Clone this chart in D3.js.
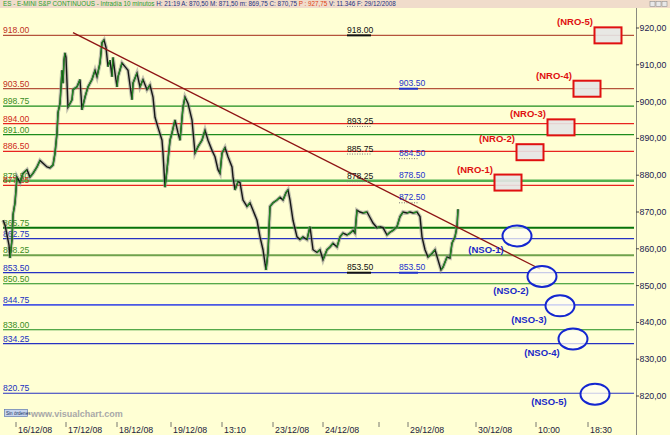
<!DOCTYPE html>
<html>
<head>
<meta charset="utf-8">
<script src="https://cdn.jsdelivr.net/npm/d3@7"></script>
<style>
  body { margin: 0; background: #ffffd4; }
  svg { display: block; }
  text { font-family: Arial, "Liberation Sans", sans-serif; }
</style>
</head>
<body>
<svg width="670" height="435"></svg>
<script>
// price path (10 min bars), slot = bar position on the time axis
const slot = [3,5,7,9,10,12,13,15,17,20,23,27,30,33,37,40,43,47,50,53,55,57,58,60,62,63,64,65,66,68,72,73,77,80,82,85,88,92,95,97,100,102,104,106,108,110,112,113,115,117,118,122,125,128,132,133,137,140,143,147,150,153,155,158,162,163,165,167,170,172,175,178,180,183,185,188,192,195,198,202,205,208,212,215,218,220,222,225,228,232,233,235,238,240,243,247,250,253,257,260,263,266,268,270,273,277,280,283,286,288,290,293,297,300,303,307,310,313,317,320,323,327,330,333,337,340,343,347,350,353,355,357,360,363,367,370,373,377,380,383,387,390,393,397,400,403,407,410,413,417,420,422,425,428,432,435,438,441,443,447,450,452,455,457,458];
const close = [867.75,866.5,863.75,861,857.5,862.5,869.25,872.5,879.5,878,880.5,881.5,879.5,880.5,882.25,884,883.25,882.25,882,882.75,886,891.5,897,899.5,908.5,905,911.25,913.25,912,898.5,900.5,903.25,904,906,897.75,901.25,904,906,908.5,906.75,910.5,916,916.75,914.75,909.5,911.25,906.75,912,907.75,904,906.75,910.5,909.5,908.5,900.5,905,907.75,904,906,903.25,904.5,901.25,895.75,893,889.5,886,876.75,881.5,889.5,891.5,895,891.5,889.5,898.5,901.25,899.5,895,886,887.75,889.5,892.25,889.5,886.75,885,881.5,880.5,886,887.5,885,882.25,879.5,876,878.25,878,873.25,871.5,872.5,870.5,867.75,863.25,859.75,854.25,859,871.5,872.5,873.25,874,873.25,875.25,876,873.25,867.75,863.25,862.5,863.25,862.5,866,859.75,859,859.75,857,859.75,860.5,861.5,860.5,863.25,864.25,863.75,864.25,865,864.25,870.5,870,869.75,870,868.5,867,865.75,866,865.75,863.75,864.5,865,866,868.75,870,869.75,870,869.75,870,868.75,863.25,859.75,857.75,858.75,859.75,857,854.25,855,857.75,857.5,861.5,863.25,866,870.75];

// horizontal levels
const levelPrices = [918, 903.5, 898.75, 894, 891, 886.5, 878.5, 877.25, 865.75, 862.75, 858.25, 853.5, 850.5, 844.75, 838, 834.25, 820.75];
const levelKinds = ["brn","brn","grn","red","grn","red","lgrn","red","dgrn","blu","olv","blu","grn","lblu","grn","blu","blu"];

// middle annotations
const annoPrices = [918, 903.5, 893.25, 885.75, 884.5, 878.25, 878.5, 872.5, 853.5, 853.5];
const annoCols = ["k","b","k","k","b","k","b","b","k","b"];
const annoSolid = [true, true, false, false, false, false, false, false, true, true];

// targets
const nroNames = ["(NRO-1)","(NRO-2)","(NRO-3)","(NRO-4)","(NRO-5)"];
const nroSlot = [508, 530, 561, 587, 608];
const nroPrice = [878, 886.25, 893, 903.5, 918];
const nsoNames = ["(NSO-1)","(NSO-2)","(NSO-3)","(NSO-4)","(NSO-5)"];
const nsoSlot = [517, 542, 560, 573, 595];
const nsoPrice = [863.5, 852.5, 844.5, 835.5, 820.5];

// trend line
const trendSlot = [73, 540];
const trendPrice = [918.75, 854.5];

// axes
const yTicks = [820, 830, 840, 850, 860, 870, 880, 890, 900, 910, 920];
const xTickSlot = [16, 66, 117, 171, 222, 273, 323, 379, 408, 476, 536, 588];
const xTickLabels = ["16/12/08","17/12/08","18/12/08","19/12/08","13:10","23/12/08","24/12/08","","29/12/08","30/12/08","10:00","18:30"];

const kindStyle = {
  brn:  { line: "#b5533c", text: "#c0301c", w: 1.2 },
  red:  { line: "#e8231f", text: "#d02818", w: 1.2 },
  grn:  { line: "#1c8c1c", text: "#3a8c22", w: 1.2 },
  lgrn: { line: "#4fb04f", text: "#3a8c22", w: 2.4 },
  dgrn: { line: "#07730a", text: "#3a8c22", w: 2 },
  olv:  { line: "#6fa24c", text: "#3a8c22", w: 1.8 },
  blu:  { line: "#2632c2", text: "#2030c0", w: 1.2 },
  lblu: { line: "#4a58e4", text: "#2030c0", w: 1.8 }
};

const svg = d3.select("svg");
const x = d3.scaleLinear().domain([0, 636]).range([0, 636]);
const y = d3.scaleLinear().domain([820, 920]).range([396, 28]);

svg.append("rect").attr("width", 670).attr("height", 435).attr("fill", "#ffffd4");

// header bar
svg.append("rect").attr("width", 670).attr("height", 8).attr("fill", "#f0dccb");
const head = svg.append("text").attr("x", 3).attr("y", 6.3).attr("font-size", 6.3);
head.append("tspan").attr("fill", "#2ca02c").text("ES - E-MINI S&P CONTINUOUS - Intradía 10 minutos ");
head.append("tspan").attr("fill", "#203080").text("H: 21:19  A: 870,50  M: 871,50  m: 869,75  C: 870,75 ");
head.append("tspan").attr("fill", "#e04010").text("P : 927,75 ");
head.append("tspan").attr("fill", "#203080").text("V: 11.346  F: 29/12/2008");
[650, 656, 662].forEach(bx => {
  svg.append("rect").attr("x", bx).attr("y", 1.5).attr("width", 5).attr("height", 5)
    .attr("fill", "#e8e8e8").attr("stroke", "#909090").attr("stroke-width", 0.6);
});

// level lines + left labels
const levels = svg.append("g");
levelPrices.forEach((p, i) => {
  const st = kindStyle[levelKinds[i]];
  levels.append("line")
    .attr("x1", 3).attr("x2", 634)
    .attr("y1", y(p)).attr("y2", y(p))
    .attr("stroke", st.line).attr("stroke-width", st.w);
  levels.append("text")
    .attr("x", 3).attr("y", y(p) - 2)
    .attr("font-size", 8.6).attr("fill", st.text)
    .text(p.toFixed(2));
});

// price series
const pts = slot.map((s, i) => [x(s), y(close[i])]);
svg.append("path").attr("d", d3.line()(pts))
  .attr("fill", "none").attr("stroke", "#8a8a8a").attr("stroke-width", 3.8)
  .attr("stroke-opacity", 0.5).attr("stroke-linejoin", "miter");
svg.append("path").attr("d", d3.line()(pts))
  .attr("fill", "none").attr("stroke", "#161616").attr("stroke-width", 1.4)
  .attr("stroke-linejoin", "miter");
svg.append("g").selectAll("line")
  .data(slot.slice(1).map((s, i) => ({ s, o: close[i], c: close[i + 1], ps: slot[i] })))
  .join("line")
  .filter(d => d.c > d.o)
  .attr("x1", d => x(d.ps)).attr("x2", d => x(d.s))
  .attr("y1", d => y(d.o)).attr("y2", d => y(d.c))
  .attr("stroke", "#238a23").attr("stroke-width", 1.3);

// trend line
svg.append("line")
  .attr("x1", x(trendSlot[0])).attr("y1", y(trendPrice[0]))
  .attr("x2", x(trendSlot[1])).attr("y2", y(trendPrice[1]))
  .attr("stroke", "#8e1414").attr("stroke-width", 1.3);

// annotations in the middle
const annoX = { k: 347, b: 399 };
annoPrices.forEach((p, i) => {
  const col = annoCols[i] === "k" ? "#111" : "#2233cc";
  const ax = annoX[annoCols[i]];
  svg.append("text").attr("x", ax).attr("y", y(p) - 2.5)
    .attr("font-size", 8.6).attr("fill", col).text(p.toFixed(2));
  svg.append("line")
    .attr("x1", ax).attr("x2", ax + (annoCols[i] === "k" ? 24 : 19))
    .attr("y1", y(p)).attr("y2", y(p))
    .attr("stroke", annoSolid[i] ? col : "#777")
    .attr("stroke-width", annoSolid[i] ? 2 : 1)
    .attr("stroke-dasharray", annoSolid[i] ? null : "1,1.5");
});

// NRO boxes
nroNames.forEach((n, i) => {
  const cx = x(nroSlot[i]), cy = y(nroPrice[i]);
  svg.append("rect").attr("x", cx - 13.5).attr("y", cy - 8).attr("width", 27).attr("height", 16)
    .attr("fill", "#e6e6e6").attr("fill-opacity", 0.9)
    .attr("stroke", "#e01010").attr("stroke-width", 2);
  svg.append("text").attr("x", cx - 33).attr("y", cy - 10)
    .attr("text-anchor", "middle").attr("font-size", 9.5).attr("font-weight", "bold")
    .attr("fill", "#e01010").text(n);
});

// NSO ellipses
nsoNames.forEach((n, i) => {
  const cx = x(nsoSlot[i]), cy = y(nsoPrice[i]);
  svg.append("ellipse").attr("cx", cx).attr("cy", cy).attr("rx", 14.5).attr("ry", 10.5)
    .attr("fill", "#fffdf4").attr("fill-opacity", 0.75)
    .attr("stroke", "#1426d0").attr("stroke-width", 2);
  // keep the last label above the time axis
  const low = cy + 17.5 > 406;
  svg.append("text").attr("x", cx - 31 - (low ? 15 : 0)).attr("y", low ? 405 : cy + 17.5)
    .attr("text-anchor", "middle").attr("font-size", 9.5).attr("font-weight", "bold")
    .attr("fill", "#1a28c8").text(n);
});

// right axis
const ax = svg.append("g");
ax.append("line").attr("x1", 636.5).attr("x2", 636.5).attr("y1", 8).attr("y2", 435)
  .attr("stroke", "#8a8a80").attr("stroke-width", 1);
yTicks.forEach(t => {
  ax.append("line").attr("x1", 636).attr("x2", 639).attr("y1", y(t)).attr("y2", y(t))
    .attr("stroke", "#444");
  ax.append("text").attr("x", 639.5).attr("y", y(t) + 3).attr("font-size", 8.8)
    .attr("fill", "#1c1c50").text(d3.format(".2f")(t).replace(".", ","));
});

// bottom axis
xTickSlot.forEach((s, i) => {
  svg.append("line").attr("x1", x(s)).attr("x2", x(s)).attr("y1", 422).attr("y2", 427)
    .attr("stroke", "#555").attr("stroke-width", 0.8);
  svg.append("text").attr("x", x(s) + 2).attr("y", 432.5).attr("font-size", 8.8)
    .attr("fill", "#1c1c40").text(xTickLabels[i]);
});

// footer
svg.append("rect").attr("x", 4.5).attr("y", 409.5).attr("width", 23).attr("height", 7)
  .attr("fill", "#c6d4ee").attr("stroke", "#6078b0").attr("stroke-width", 0.7);
svg.append("text").attr("x", 6).attr("y", 415).attr("font-size", 4.6).attr("fill", "#203060").text("Sin órdenes");
svg.append("text").attr("x", 31).attr("y", 417).attr("font-size", 9).attr("font-weight", "bold")
  .attr("fill", "#a8a8a8").text("www.visualchart.com");
</script>
</body>
</html>
